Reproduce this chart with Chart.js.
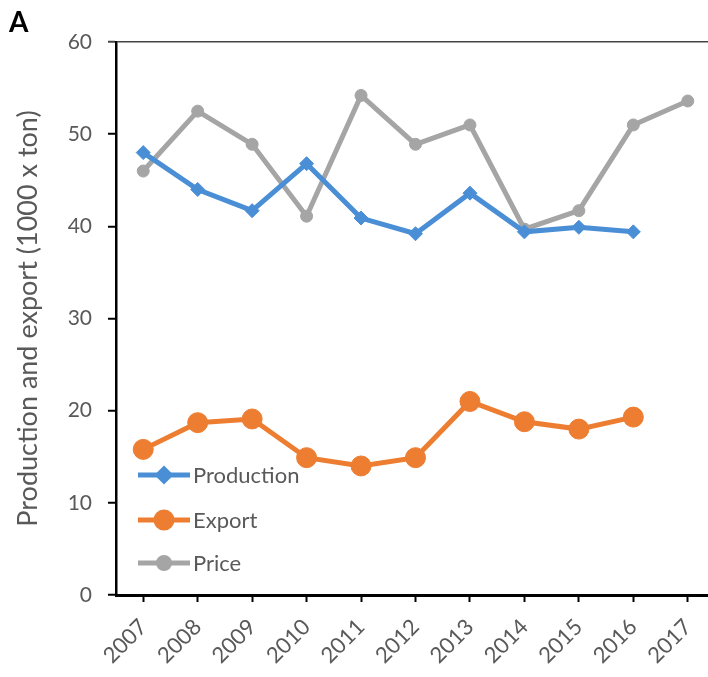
<!DOCTYPE html>
<html>
<head>
<meta charset="utf-8">
<script src="https://cdn.jsdelivr.net/npm/chart.js@4.4.1/dist/chart.umd.min.js"></script>
<style>
  html, body { margin: 0; padding: 0; background: #fff; overflow: hidden; }
  #wrap { position: relative; width: 708px; height: 677px; overflow: hidden; }
  #wrap canvas { position: absolute; left: 0; top: 0; }
</style>
</head>
<body>
<div id="wrap"><canvas id="chart" width="726" height="677"></canvas></div>
<script>
"use strict";

// data
const years = ["2007", "2008", "2009", "2010", "2011", "2012", "2013", "2014", "2015", "2016", "2017"];
const production = [48.0, 44.0, 41.7, 46.8, 40.9, 39.2, 43.6, 39.4, 39.9, 39.4, null];
const exportVals = [15.8, 18.7, 19.1, 14.9, 14.0, 14.9, 21.0, 18.8, 18.0, 19.3, null];
const price = [46.0, 52.5, 48.9, 41.1, 54.2, 48.9, 51.0, 39.7, 41.7, 51.0, 53.6];
const yTicks = [0, 10, 20, 30, 40, 50, 60];

const FONT = "Lato";
const TEXT = "#595959";

// legend drawn inside the plot, bottom left, like the Excel original
const insideLegend = {
  id: "insideLegend",
  afterDatasetsDraw: function (chart) {
    const ctx = chart.ctx;
    const area = chart.chartArea;
    const rows = [120, 75, 32];
    ctx.save();
    chart.data.datasets.forEach(function (ds, i) {
      const y = area.bottom - rows[i];
      const x0 = area.left + 22;
      const x1 = x0 + 52;
      ctx.strokeStyle = ds.borderColor;
      ctx.lineWidth = ds.borderWidth;
      ctx.beginPath();
      ctx.moveTo(x0, y);
      ctx.lineTo(x1, y);
      ctx.stroke();
      ctx.fillStyle = ds.pointBackgroundColor;
      ctx.strokeStyle = ds.pointBackgroundColor;
      Chart.helpers.drawPoint(ctx, {
        pointStyle: ds.pointStyle,
        radius: ds.legendRadius,
        rotation: 0,
        borderWidth: 1
      }, (x0 + x1) / 2, y);
      ctx.fillStyle = TEXT;
      ctx.font = "22px " + FONT;
      ctx.textBaseline = "middle";
      ctx.textAlign = "left";
      ctx.fillText(ds.label, x1 + 3, y + 1);
    });
    ctx.restore();
  }
};

// panel letter
const panelLetter = {
  id: "panelLetter",
  afterDraw: function (chart) {
    const ctx = chart.ctx;
    ctx.save();
    ctx.fillStyle = "#000";
    ctx.font = "bold 28px " + FONT;
    ctx.textBaseline = "middle";
    ctx.fillText("A", 9, 23);
    ctx.restore();
  }
};

function series(label, data, color, style, r, lr) {
  return {
    label: label,
    data: data,
    borderColor: color,
    backgroundColor: color,
    pointBackgroundColor: color,
    pointBorderColor: color,
    pointStyle: style,
    pointRadius: r,
    legendRadius: lr,
    pointBorderWidth: 1,
    borderWidth: 5,
    tension: 0,
    spanGaps: false
  };
}

const chart = new Chart(document.getElementById("chart"), {
  type: "line",
  data: {
    labels: years,
    datasets: [
      series("Production", production, "#4a8fd6", "rectRot", 7, 6),
      series("Export", exportVals, "#ed7d31", "circle", 10, 8),
      series("Price", price, "#a5a5a5", "circle", 6, 5.5)
    ]
  },
  options: {
    responsive: false,
    animation: false,
    layout: { padding: { left: 8, top: 42, right: 3, bottom: 0 } },
    plugins: {
      legend: { display: false },
      tooltip: { enabled: false }
    },
    scales: {
      x: {
        offset: true,
        grid: {
          offset: false,
          drawOnChartArea: false,
          drawTicks: true,
          tickLength: 7,
          tickColor: "#000",
          tickWidth: 2
        },
        border: { color: "#000", width: 3 },
        ticks: {
          color: TEXT,
          font: { family: FONT, size: 22 },
          minRotation: 45,
          maxRotation: 45,
          padding: 12
        },
        afterFit: function (scale) { scale.height = 82; }
      },
      y: {
        min: 0,
        max: 60,
        afterBuildTicks: function (scale) {
          scale.ticks = yTicks.map(function (v) { return { value: v }; });
        },
        grid: {
          color: function (c) { return c.tick && c.tick.value === 60 ? "#444" : "transparent"; },
          lineWidth: 1.5,
          drawTicks: true,
          tickLength: 8,
          tickColor: function (c) { return c.tick && c.tick.value === 60 ? "#444" : "#000"; },
          tickWidth: 2
        },
        border: { color: "#000", width: 2.5 },
        ticks: {
          color: TEXT,
          font: { family: FONT, size: 21 },
          padding: 16
        },
        title: {
          display: true,
          text: "Production and export (1000 x ton)",
          color: TEXT,
          font: { family: FONT, size: 27 },
          padding: { top: 4, bottom: 4 }
        },
        afterFit: function (scale) { scale.width = 108; }
      }
    }
  },
  plugins: [insideLegend, panelLetter]
});
</script>
</body>
</html>
